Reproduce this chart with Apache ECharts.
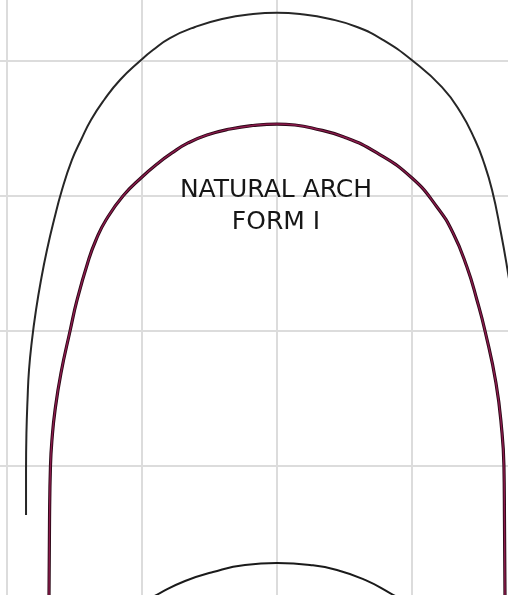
<!DOCTYPE html>
<html>
<head>
<meta charset="utf-8">
<script src="https://cdn.jsdelivr.net/npm/echarts@6/dist/echarts.min.js"></script>
<style>
  html, body { margin: 0; padding: 0; background: #fff; }
  #chart { width: 508px; height: 595px; }
</style>
</head>
<body>
<div id="chart"></div>
<script>
// grid units: one cell = 10
const xTicks = [-30, -20, -10, 0, 10, 20];
const yTicks = [-10, 0, 10, 20, 30, 40];

// outer (black) arch, left end -> right end
const outerArch = [
  [-18.59, -3.63], [-18.59, -0.3], [-18.56, 2.44], [-18.48, 4.89], [-18.37, 7.11],
  [-18.15, 9.33], [-17.85, 11.56], [-17.48, 13.78], [-17.04, 16.0], [-16.52, 18.22],
  [-15.93, 20.44], [-15.19, 22.67], [-14.52, 24.15], [-13.78, 25.63], [-12.81, 27.11],
  [-11.63, 28.59], [-10.07, 30.07], [-9.19, 30.81], [-7.93, 31.7], [-6.07, 32.52],
  [-4.07, 33.11], [-1.78, 33.48], [0, 33.58],
  [1.7, 33.48], [3.93, 33.11], [5.93, 32.52], [7.85, 31.56], [10.07, 30.0],
  [12.22, 28.07], [13.63, 26.15], [14.67, 24.15], [15.26, 22.67], [15.93, 20.44],
  [16.59, 17.26], [17.04, 14.74], [17.41, 12.3], [17.7, 9.33], [17.93, 4.89],
  [18.0, -0.3], [18.0, -3.63]
];

// inner (maroon) arch
const innerArch = [
  [-16.89, -9.93], [-16.85, -4.0], [-16.78, 0], [-16.67, 1.93], [-16.44, 4.15],
  [-16.0, 6.89], [-15.33, 10.0], [-14.81, 12.3], [-13.96, 15.26], [-13.41, 16.74],
  [-12.67, 18.22], [-11.41, 20.0], [-10.0, 21.41], [-8.89, 22.37], [-7.78, 23.19],
  [-6.59, 23.93], [-5.19, 24.52], [-3.48, 24.96], [-1.78, 25.22], [0, 25.33],
  [1.33, 25.26], [2.59, 25.04], [4.96, 24.37], [7.41, 23.19], [10.0, 21.33],
  [11.85, 19.19], [13.04, 17.26], [14.07, 14.74], [14.81, 12.3], [15.41, 10.0],
  [16.22, 6.15], [16.67, 2.44], [16.81, 0], [16.85, -4.0], [16.89, -9.93]
];

// lower arch (partly visible at bottom)
const lowerArch = [
  [-9.56, -9.93], [-8.67, -9.41], [-6.81, -8.52], [-4.74, -7.85], [-2.37, -7.33],
  [0, -7.19], [2.44, -7.33], [4.44, -7.7], [6.52, -8.44], [8.37, -9.41], [9.26, -9.93]
];

const label = 'NATURAL ARCH\nFORM I';

const myChart = echarts.init(document.getElementById('chart'));

const hidden = {
  axisLabel: { show: false },
  axisLine: { show: false },
  axisTick: { show: false },
  splitLine: { show: true, lineStyle: { color: '#dcdcdc', width: 2 } }
};

const option = {
  backgroundColor: '#ffffff',
  animation: false,
  grid: { left: -128, right: -39, top: -74, bottom: -6, outerBoundsMode: 'none' },
  xAxis: Object.assign({ type: 'value', min: xTicks[0], max: xTicks[xTicks.length - 1], interval: 10 }, hidden),
  yAxis: Object.assign({ type: 'value', min: yTicks[0], max: yTicks[yTicks.length - 1], interval: 10 }, hidden),
  graphic: [{
    type: 'text',
    z: 100,
    x: 276,
    y: 206,
    style: {
      text: label,
      font: '25px "DejaVu Sans"',
      fill: '#161616',
      align: 'center',
      verticalAlign: 'middle',
      lineHeight: 32
    }
  }],
  series: [
    {
      type: 'line', data: outerArch, smooth: 0.5, symbol: 'none',
      lineStyle: { color: '#262626', width: 2 }
    },
    {
      type: 'line', data: innerArch, smooth: 0.5, symbol: 'none',
      lineStyle: { color: '#2a0816', width: 3.2 }
    },
    {
      type: 'line', data: innerArch, smooth: 0.5, symbol: 'none',
      lineStyle: { color: '#8c1a4c', width: 1.4 }
    },
    {
      type: 'line', data: lowerArch, smooth: 0.5, symbol: 'none',
      lineStyle: { color: '#1a1a1a', width: 2 }
    }
  ]
};

myChart.setOption(option);
window.addEventListener('resize', () => myChart.resize());
</script>
</body>
</html>
